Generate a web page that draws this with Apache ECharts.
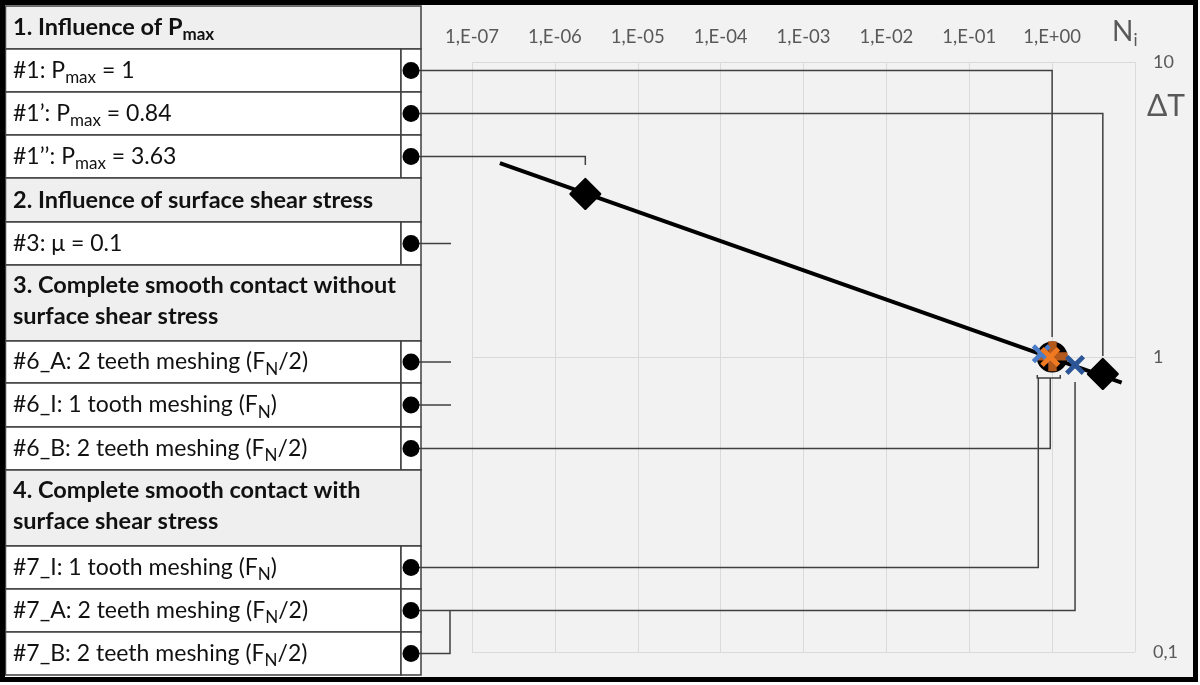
<!DOCTYPE html>
<html><head><meta charset="utf-8">
<script src="https://cdn.jsdelivr.net/npm/echarts@6/dist/echarts.min.js"></script>
<style>html,body{margin:0;padding:0;background:#fff;} #main{width:1200px;height:685px;}</style>
</head><body><div id="main"></div>
<script>
// ---------- data ----------
const xTickLabels = ['1,E-07','1,E-06','1,E-05','1,E-04','1,E-03','1,E-02','1,E-01','1,E+00'];
const yTickLabels = ['0,1','1','10'];
const fitN  = [2.17e-7, 6.9];          // fitted line end points
const fitDT = [4.54, 0.818];
const c1N   = [1.0],    c1DT   = [1.0];    // #1   black circle
const c1aN  = [4.09],   c1aDT  = [0.876];  // #1'  black diamond
const c1bN  = [2.33e-6],c1bDT  = [3.57];   // #1'' black diamond
const c6pN  = [1.01],   c6pDT  = [1.005];  // brown plus
const c6N   = [0.95],   c6DT   = [1.0];    // #6_B orange x
const c7IN  = [0.74],   c7IDT  = [1.025];  // #7_I light blue x
const c7ABN = [1.89],   c7ABDT = [0.94];   // #7_A / #7_B dark blue x

const rowTexts = [
  ['h', '1. Influence of P{hs|max}'],
  ['d', '#1: P{s|max} = 1'],
  ['d', '#1\u2019: P{s|max} = 0.84'],
  ['d', '#1\u2019\u2019: P{s|max} = 3.63'],
  ['h', '2. Influence of surface shear stress'],
  ['d', '#3: \u03bc = 0.1'],
  ['h', '3. Complete smooth contact without\nsurface shear stress'],
  ['d', '#6_A: 2 teeth meshing (F{s|N}/2)'],
  ['d', '#6_I: 1 tooth meshing (F{s|N})'],
  ['d', '#6_B: 2 teeth meshing (F{s|N}/2)'],
  ['h', '4. Complete smooth contact with\nsurface shear stress'],
  ['d', '#7_I: 1 tooth meshing (F{s|N})'],
  ['d', '#7_A: 2 teeth meshing (F{s|N}/2)'],
  ['d', '#7_B: 2 teeth meshing (F{s|N}/2)']
];

// ---------- layout ----------
const rowEdges = [6, 49, 92, 135, 178, 222, 265, 341, 383, 427, 470, 546, 589, 632, 675];
const rowMid = i => (rowEdges[i] + rowEdges[i + 1]) / 2;
const TL = 5.5, TDOT = 401, TR = 421, DOTX = 411;
const FONT = 'Lato';

const zip = (a, b) => a.map((v, i) => [v, b[i]]);

// links: [N, dT, linkIndex]
const linkLayout = [
  { row: 1, dy: -20, dx: 0 },   // #1
  { row: 2, dy: -18, dx: 0 },   // #1'
  { row: 3, dy: -29, dx: 0 },   // #1''
  { row: 9, dy: 21, dx: 0 },    // #6_B
  { row: 11, dy: 24, dx: -3 },  // #7_I
  { row: 12, dy: 17, dx: 0 }    // #7_A
];
const linkData = [
  [c1N[0], c1DT[0], 0],
  [c1aN[0], c1aDT[0], 1],
  [c1bN[0], c1bDT[0], 2],
  [c6N[0], c6DT[0], 3],
  [c7IN[0], c7IDT[0], 4],
  [c7ABN[0], c7ABDT[0], 5]
];

const xPath = 'path://M0,1.7L1.7,0L5,3.3L8.3,0L10,1.7L6.7,5L10,8.3L8.3,10L5,6.7L1.7,10L0,8.3L3.3,5Z';
const plusPath = 'path://M3.6,0L6.4,0L6.4,3.6L10,3.6L10,6.4L6.4,6.4L6.4,10L3.6,10L3.6,6.4L0,6.4L0,3.6L3.6,3.6Z';

// ---------- table graphics ----------
const g = [];
g.push({ type: 'rect', z: -10, shape: { x: 421, y: 4, width: 775, height: 677 }, style: { fill: '#f2f2f2' } });
rowTexts.forEach((r, i) => {
  const y0 = rowEdges[i], h = rowEdges[i + 1] - rowEdges[i];
  const header = r[0] === 'h';
  if (header) {
    g.push({ type: 'rect', shape: { x: TL, y: y0, width: TR - TL, height: h },
      style: { fill: '#efefef', stroke: '#404040', lineWidth: 1.5 } });
  } else {
    g.push({ type: 'rect', shape: { x: TL, y: y0, width: TDOT - TL, height: h },
      style: { fill: '#ffffff', stroke: '#404040', lineWidth: 1.5 } });
    g.push({ type: 'rect', shape: { x: TDOT, y: y0, width: TR - TDOT, height: h },
      style: { fill: '#ffffff', stroke: '#404040', lineWidth: 1.5 } });
  }
  const two = r[1].indexOf('\n') >= 0;
  g.push({ type: 'text', x: 13, y: rowMid(i) - (two ? 2 : 0), z: 5,
    style: { text: r[1], fontFamily: FONT, fontSize: header ? 23.5 : 23, fontWeight: header ? 'bold' : 'normal',
      fill: '#111', lineHeight: two ? 31 : 32, align: 'left', verticalAlign: 'middle',
      rich: {
        s:  { fontFamily: FONT, fontSize: 17, lineHeight: 15, verticalAlign: 'bottom', fill: '#111' },
        hs: { fontFamily: FONT, fontSize: 17, lineHeight: 15, verticalAlign: 'bottom', fill: '#111', fontWeight: 'bold' }
      } } });
});
// stubs / joints that do not end on a plotted point
[5, 7, 8].forEach(i => g.push({ type: 'line', z: 4, shape: { x1: 419, y1: rowMid(i), x2: 451, y2: rowMid(i) },
  style: { stroke: '#404040', lineWidth: 1.5 } }));
g.push({ type: 'polyline', z: 4, shape: { points: [[419, rowMid(13)], [450, rowMid(13)], [450, rowMid(12)]] },
  style: { stroke: '#404040', lineWidth: 1.5, fill: null } });
// dots
rowTexts.forEach((r, i) => {
  if (r[0] === 'd') g.push({ type: 'circle', z: 6, shape: { cx: DOTX, cy: rowMid(i), r: 8.5 }, style: { fill: '#000' } });
});
// axis titles
g.push({ type: 'text', x: 1112, y: 32, z: 5, style: { text: 'N{i|i}', fontFamily: FONT, fontSize: 28, lineHeight: 34,
  fill: '#595959', align: 'left', verticalAlign: 'middle',
  rich: { i: { fontFamily: FONT, fontSize: 17, lineHeight: 16, verticalAlign: 'bottom', fill: '#595959' } } } });
g.push({ type: 'text', x: 1166, y: 106, z: 5, style: { text: '\u0394T', fontFamily: FONT, fontSize: 30,
  fill: '#595959', align: 'center', verticalAlign: 'middle' } });
// outer frame
g.push({ type: 'rect', z: 100, shape: { x: 2.5, y: 2.5, width: 1193, height: 677 },
  style: { fill: null, stroke: '#000', lineWidth: 5 } });

const chart = echarts.init(document.getElementById('main'));
chart.setOption({
  animation: false,
  backgroundColor: 'transparent',
  grid: { left: 472, right: 65, top: 62, bottom: 33, outerBoundsMode: 'none' },
  xAxis: {
    type: 'log', logBase: 10, min: 1e-7, max: 10, splitNumber: 8, position: 'top',
    axisLine: { show: false }, axisTick: { show: false },
    axisLabel: { margin: 15, fontFamily: FONT, fontSize: 18.5, color: '#595959',
      formatter: v => { const k = Math.round(Math.log10(v)) + 7; return k >= 0 && k < xTickLabels.length ? xTickLabels[k] : ''; } },
    splitLine: { show: true, lineStyle: { color: '#dadada', width: 1 } }
  },
  yAxis: {
    type: 'log', logBase: 10, min: 0.1, max: 10, splitNumber: 2, position: 'right',
    axisLine: { show: false }, axisTick: { show: false },
    axisLabel: { margin: 18, fontFamily: FONT, fontSize: 18, color: '#595959', align: 'left',
      formatter: v => { const k = Math.round(Math.log10(v)) + 1; return yTickLabels[k] || ''; } },
    splitLine: { show: true, lineStyle: { color: '#dadada', width: 1 } }
  },
  graphic: { elements: g },
  series: [
    { type: 'line', name: 'fit', data: zip(fitN, fitDT), showSymbol: false, z: 2,
      lineStyle: { color: '#000', width: 4 } },
    { type: 'custom', name: 'links', coordinateSystem: 'cartesian2d', clip: false, z: 3, data: linkData,
      renderItem: (params, api) => {
        const L = linkLayout[api.value(2)];
        const p = api.coord([api.value(0), api.value(1)]);
        const x = p[0] + L.dx, yr = rowMid(L.row);
        const children = [{ type: 'polyline', shape: { points: [[419, yr], [x, yr], [x, p[1] + L.dy]] },
          style: { stroke: '#404040', lineWidth: 1.5, fill: null } }];
        if (api.value(2) === 3) {
          // bracket under the cluster around (1,1)
          const yb = p[1] + L.dy;
          const xl = x - 13, xr = x + 10;
          children.push({ type: 'polyline', shape: { points: [[xl, yb - 3], [xl, yb], [xr, yb], [xr, yb - 3]] },
            style: { stroke: '#404040', lineWidth: 1.5, fill: null } });
        }
        return { type: 'group', children };
      } },
    { type: 'scatter', name: '#1', data: zip(c1N, c1DT), symbol: 'circle', symbolSize: 31, z: 4,
      itemStyle: { color: '#000', opacity: 1 } },
    { type: 'scatter', name: "#1' / #1''", data: zip(c1aN, c1aDT).concat(zip(c1bN, c1bDT)), symbol: 'diamond',
      symbolSize: 29, z: 4, itemStyle: { color: '#000', borderColor: '#000', borderWidth: 3, borderJoin: 'round', opacity: 1 } },
    { type: 'scatter', name: 'plus', data: zip(c6pN, c6pDT), symbol: plusPath, symbolSize: 30, z: 5,
      itemStyle: { color: '#b4591c', opacity: 1 } },
    { type: 'scatter', name: '#7_I', data: zip(c7IN, c7IDT), symbol: xPath, symbolSize: 19, z: 6,
      itemStyle: { color: '#4a7cc9', opacity: 1 } },
    { type: 'scatter', name: '#6_B', data: zip(c6N, c6DT), symbol: xPath, symbolSize: 20, z: 7,
      itemStyle: { color: '#f07a22', opacity: 1 } },
    { type: 'scatter', name: '#7_A/#7_B', data: zip(c7ABN, c7ABDT), symbol: xPath, symbolSize: 20, z: 6,
      itemStyle: { color: '#2b5596', opacity: 1 } }
  ]
});
</script></body></html>
